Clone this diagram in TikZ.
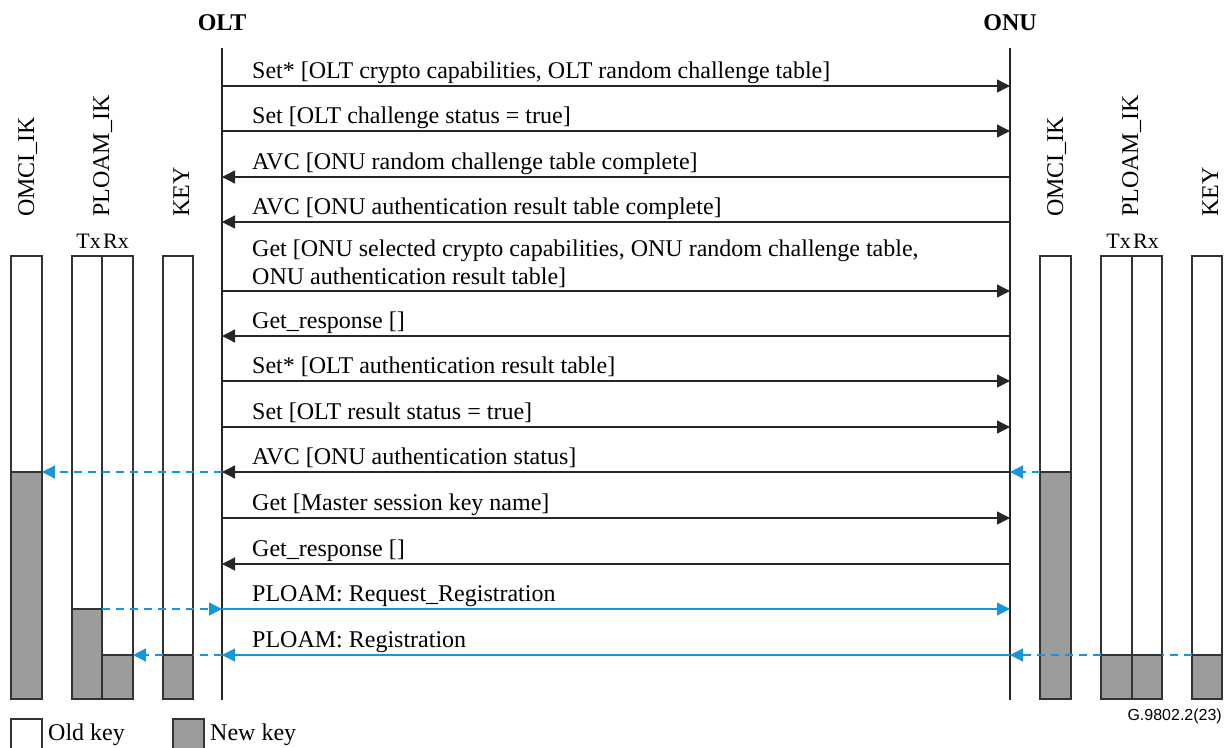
\documentclass[tikz,border=0pt]{standalone}
\usepackage{fontspec}
\setmainfont{Liberation Serif}
\newfontfamily\figidfont{Liberation Sans}
\usetikzlibrary{arrows.meta}
\definecolor{msgblue}{RGB}{24,150,220}
\definecolor{newkey}{RGB}{155,157,155}
\tikzset{
  lifeline/.style={line width=1.3pt, black!85},
  msgarrow/.style={line width=1.3pt, black!85, -{Triangle[length=13pt,width=13pt]}},
  plarrow/.style={line width=1.3pt, msgblue, -{Triangle[length=13pt,width=13pt]}},
  keyswitch/.style={line width=1.3pt, msgblue, dash pattern=on 8pt off 6pt},
  keyswitcharrow/.style={keyswitch, -{Triangle[length=13pt,width=13pt]}},
  msg/.style={anchor=base west, inner sep=0pt, font=\fontsize{24}{27.5}\selectfont, align=left},
  party/.style={anchor=base, inner sep=0pt, font=\fontsize{24}{28}\selectfont\bfseries},
  colhead/.style={anchor=base west, rotate=90, inner sep=0pt, font=\fontsize{24}{28}\selectfont},
  txrx/.style={inner sep=0pt, font=\fontsize{22}{26}\selectfont},
  oldbar/.style={draw=black!80, line width=1.3pt, fill=white},
  newbar/.style={draw=black!80, line width=1.3pt, fill=newkey},
}
\begin{document}
\begin{tikzpicture}[x=1pt,y=-1pt]
\useasboundingbox (0,0) rectangle (1230,747);

% parties and lifelines
\node[party] (olt) at (222,30) {OLT};
\node[party] (onu) at (1010,30) {ONU};
\coordinate (oltT) at (222,48);
\coordinate (oltB) at (222,700);
\coordinate (onuT) at (1010,48);
\coordinate (onuB) at (1010,700);
\draw[lifeline] (oltT) -- (oltB);
\draw[lifeline] (onuT) -- (onuB);

% message rows
\foreach \i/\y in {1/86,2/131,3/177,4/222,5/291,6/336,7/381,8/427,9/472,10/518,11/564,12/609,13/655}{
  \coordinate (o\i) at (222,\y);
  \coordinate (n\i) at (1010,\y);
}

\node[msg] (m1) at (252,78) {Set* [OLT crypto capabilities, OLT random challenge table]};
\node[msg] (m2) at (252,123) {Set [OLT challenge status = true]};
\node[msg] (m3) at (252,169) {AVC [ONU random challenge table complete]};
\node[msg] (m4) at (252,214) {AVC [ONU authentication result table complete]};
\node[msg] (m5) at (252,284) {Get [ONU selected crypto capabilities, ONU random challenge table,\\ONU authentication result table]};
\node[msg] (m6) at (252,328) {Get\_response []};
\node[msg] (m7) at (252,373) {Set* [OLT authentication result table]};
\node[msg] (m8) at (252,419) {Set [OLT result status = true]};
\node[msg] (m9) at (252,464) {AVC [ONU authentication status]};
\node[msg] (m10) at (252,510) {Get [Master session key name]};
\node[msg] (m11) at (252,556) {Get\_response []};
\node[msg] (m12) at (252,601) {PLOAM: Request\_Registration};
\node[msg] (m13) at (252,647) {PLOAM: Registration};

\draw[msgarrow] (o1) -- (n1);
\draw[msgarrow] (o2) -- (n2);
\draw[msgarrow] (n3) -- (o3);
\draw[msgarrow] (n4) -- (o4);
\draw[msgarrow] (o5) -- (n5);
\draw[msgarrow] (n6) -- (o6);
\draw[msgarrow] (o7) -- (n7);
\draw[msgarrow] (o8) -- (n8);
\draw[msgarrow] (n9) -- (o9);
\draw[msgarrow] (o10) -- (n10);
\draw[msgarrow] (n11) -- (o11);
\draw[plarrow] (o12) -- (n12);
\draw[plarrow] (n13) -- (o13);

% column headings
\node[colhead] (hLomci) at (34,217) {OMCI\_IK};
\node[colhead] (hLploam) at (109,217) {PLOAM\_IK};
\node[colhead] (hLkey) at (189,217) {KEY};
\node[colhead] (hRomci) at (1063,217) {OMCI\_IK};
\node[colhead] (hRploam) at (1138,217) {PLOAM\_IK};
\node[colhead] (hRkey) at (1218,217) {KEY};
\node[txrx, anchor=base east] (lTx) at (101,248) {Tx};
\node[txrx, anchor=base west] (lRx) at (103,248) {Rx};
\node[txrx, anchor=base east] (rTx) at (1131,248) {Tx};
\node[txrx, anchor=base west] (rRx) at (1133,248) {Rx};

% key bars: old key (white) above, new key (grey) below
\draw[oldbar] (11,256) rectangle (42,699);
\draw[newbar] (11,472) rectangle (42,699);
\draw[oldbar] (72,256) rectangle (102,699);
\draw[newbar] (72,609) rectangle (102,699);
\draw[oldbar] (102,256) rectangle (133,699);
\draw[newbar] (102,655) rectangle (133,699);
\draw[oldbar] (163,256) rectangle (193,699);
\draw[newbar] (163,655) rectangle (193,699);

\draw[oldbar] (1040,256) rectangle (1071,699);
\draw[newbar] (1040,472) rectangle (1071,699);
\draw[oldbar] (1101,256) rectangle (1132,699);
\draw[newbar] (1101,655) rectangle (1132,699);
\draw[oldbar] (1132,256) rectangle (1162,699);
\draw[newbar] (1132,655) rectangle (1162,699);
\draw[oldbar] (1192,256) rectangle (1222,699);
\draw[newbar] (1192,655) rectangle (1222,699);

% key switch indications
\coordinate (lOmciEdge) at (42,472);
\coordinate (rOmciEdge) at (1040,472);
\coordinate (lTxEdge) at (102,609);
\coordinate (lKeyEdgeR) at (193,655);
\coordinate (lKeyEdgeL) at (163,655);
\coordinate (lRxEdge) at (133,655);
\coordinate (rKeyEdge) at (1192,655);
\coordinate (rRxEdge) at (1162,655);
\coordinate (rTxEdge) at (1101,655);
\draw[keyswitcharrow] (o9) -- (lOmciEdge);
\draw[keyswitcharrow] (rOmciEdge) -- (n9);
\draw[keyswitcharrow] (lTxEdge) -- (o12);
\draw[keyswitch] (o13) -- (lKeyEdgeR);
\draw[keyswitcharrow] (lKeyEdgeL) -- (lRxEdge);
\draw[keyswitch] (rKeyEdge) -- (rRxEdge);
\draw[keyswitcharrow] (rTxEdge) -- (n13);

% legend
\draw[oldbar] (11,719) rectangle (42,760);
\node[msg] (lgOld) at (48,740) {Old key};
\draw[newbar] (173,719) rectangle (204,760);
\node[msg] (lgNew) at (210,740) {New key};

\node[anchor=base east, inner sep=0pt, font=\figidfont\fontsize{16}{19}\selectfont] (figid) at (1222,720) {G.9802.2(23)};
\end{tikzpicture}
\end{document}
